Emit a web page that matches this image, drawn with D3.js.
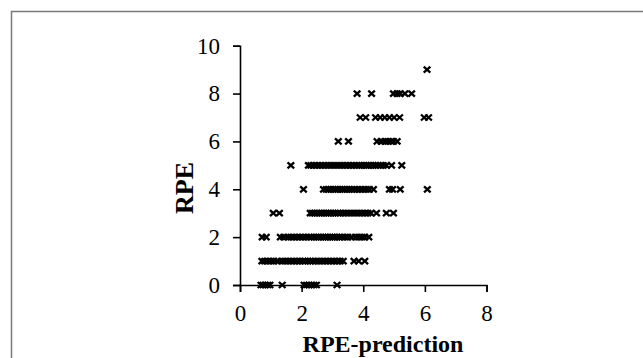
<!DOCTYPE html>
<html>
<head>
<meta charset="utf-8">
<script src="https://cdn.jsdelivr.net/npm/d3@7"></script>
<style>
  body { margin: 0; background: #fff; }
  svg { display: block; }
  text { font-family: "Liberation Serif", "Times New Roman", serif; fill: #000; }
</style>
</head>
<body>
<div id="chart"></div>
<script>
// RPE-prediction values, one array per RPE level
const pred0 = [0.68, 0.75, 0.82, 0.9, 0.97, 1.37, 2.08, 2.16, 2.24, 2.32, 2.4, 2.48, 3.15];
const pred1 = [0.71, 0.8, 0.9, 1.0, 1.1, 1.22, 1.35, 1.45, 1.55, 1.65, 1.75, 1.85, 1.95, 2.05, 2.12, 2.2, 2.28, 2.36,
               2.45, 2.55, 2.65, 2.75, 2.85, 2.95, 3.05, 3.15, 3.25, 3.35, 3.7, 3.85, 4.05];
const pred2 = [0.72, 0.85, 1.31, 1.42, 1.55, 1.65, 1.75, 1.85, 1.95, 2.05, 2.15, 2.25, 2.32, 2.4, 2.48, 2.55, 2.62,
               2.7, 2.78, 2.85, 2.92, 3.0, 3.08, 3.15, 3.22, 3.3, 3.4, 3.5, 3.62, 3.75, 3.85, 3.95, 4.05, 4.18];
const pred3 = [1.08, 1.28, 2.28, 2.35, 2.42, 2.5, 2.58, 2.65, 2.72, 2.8, 2.88, 2.95, 3.02, 3.1, 3.18, 3.25, 3.35,
               3.45, 3.55, 3.65, 3.75, 3.85, 3.95, 4.05, 4.15, 4.25, 4.43, 4.75, 4.98];
const pred4 = [2.06, 2.71, 2.8, 2.88, 2.95, 3.02, 3.1, 3.18, 3.25, 3.32, 3.4, 3.48, 3.55, 3.62, 3.7, 3.8, 3.9, 4.0,
               4.1, 4.2, 4.33, 4.85, 4.95, 5.2, 6.08];
const pred5 = [1.65, 2.22, 2.3, 2.4, 2.5, 2.6, 2.7, 2.8, 2.9, 3.0, 3.1, 3.2, 3.3, 3.4, 3.5, 3.6, 3.7, 3.8, 3.88,
               3.95, 4.02, 4.1, 4.18, 4.25, 4.32, 4.4, 4.48, 4.56, 4.65, 4.75, 4.92, 5.25];
const pred6 = [3.19, 3.52, 4.45, 4.58, 4.7, 4.8, 4.9, 4.98, 5.1];
const pred7 = [3.9, 4.08, 4.4, 4.55, 4.7, 4.85, 5.0, 5.18, 5.98, 6.12];
const pred8 = [3.8, 4.27, 4.98, 5.1, 5.2, 5.35, 5.57];
const pred9 = [6.07];

const rpeLevels = [0, 1, 2, 3, 4, 5, 6, 7, 8, 9];
const predByLevel = [pred0, pred1, pred2, pred3, pred4, pred5, pred6, pred7, pred8, pred9];

const xTicks = [0, 2, 4, 6, 8];
const yTicks = [0, 2, 4, 6, 8, 10];
const xTitle = "RPE-prediction";
const yTitle = "RPE";

const width = 643, height = 358;

const svg = d3.select("#chart").append("svg")
    .attr("width", width)
    .attr("height", height);

// outer frame (only top and left edges are inside the picture)
svg.append("rect")
    .attr("x", 11.5).attr("y", 11.5)
    .attr("width", 800).attr("height", 600)
    .attr("fill", "none")
    .attr("stroke", "#7a7a7a")
    .attr("stroke-width", 1.5);

const x = d3.scaleLinear().domain([0, 8]).range([240, 486.5]);
const y = d3.scaleLinear().domain([0, 10]).range([285, 45.7]);

const xAxis = svg.append("g")
    .attr("transform", "translate(0," + y(0) + ")")
    .call(d3.axisBottom(x).tickValues(xTicks).tickSize(7).tickPadding(13).tickFormat(d3.format("d")));

const yAxis = svg.append("g")
    .attr("transform", "translate(" + x(0) + ",0)")
    .call(d3.axisLeft(y).tickValues(yTicks).tickSize(7).tickPadding(13).tickFormat(d3.format("d")));

[xAxis, yAxis].forEach(function (g) {
    g.select(".domain").attr("stroke", "#000").attr("stroke-width", 1.6);
    g.selectAll(".tick line").attr("stroke", "#000").attr("stroke-width", 1.6);
    g.selectAll(".tick text")
        .attr("font-family", "Liberation Serif, Times New Roman, serif")
        .attr("font-size", 23)
        .attr("fill", "#000");
});

// flatten points
const points = [];
rpeLevels.forEach(function (lvl, i) {
    predByLevel[i].forEach(function (p) {
        points.push({ pred: p, rpe: lvl });
    });
});

// x-shaped markers
svg.append("g")
    .selectAll("path")
    .data(points)
    .enter()
    .append("path")
    .attr("transform", function (d) { return "translate(" + x(d.pred) + "," + y(d.rpe) + ")"; })
    .attr("d", "M-3.3,-3L3.3,3M-3.3,3L3.3,-3")
    .attr("fill", "none")
    .attr("stroke", "#000")
    .attr("stroke-width", 2.3);

svg.append("text")
    .attr("x", 383)
    .attr("y", 352)
    .attr("text-anchor", "middle")
    .attr("font-size", 24)
    .attr("font-weight", "bold")
    .text(xTitle);

svg.append("text")
    .attr("transform", "translate(193,188) rotate(-90)")
    .attr("text-anchor", "middle")
    .attr("font-size", 26)
    .attr("font-weight", "bold")
    .text(yTitle);
</script>
</body>
</html>
